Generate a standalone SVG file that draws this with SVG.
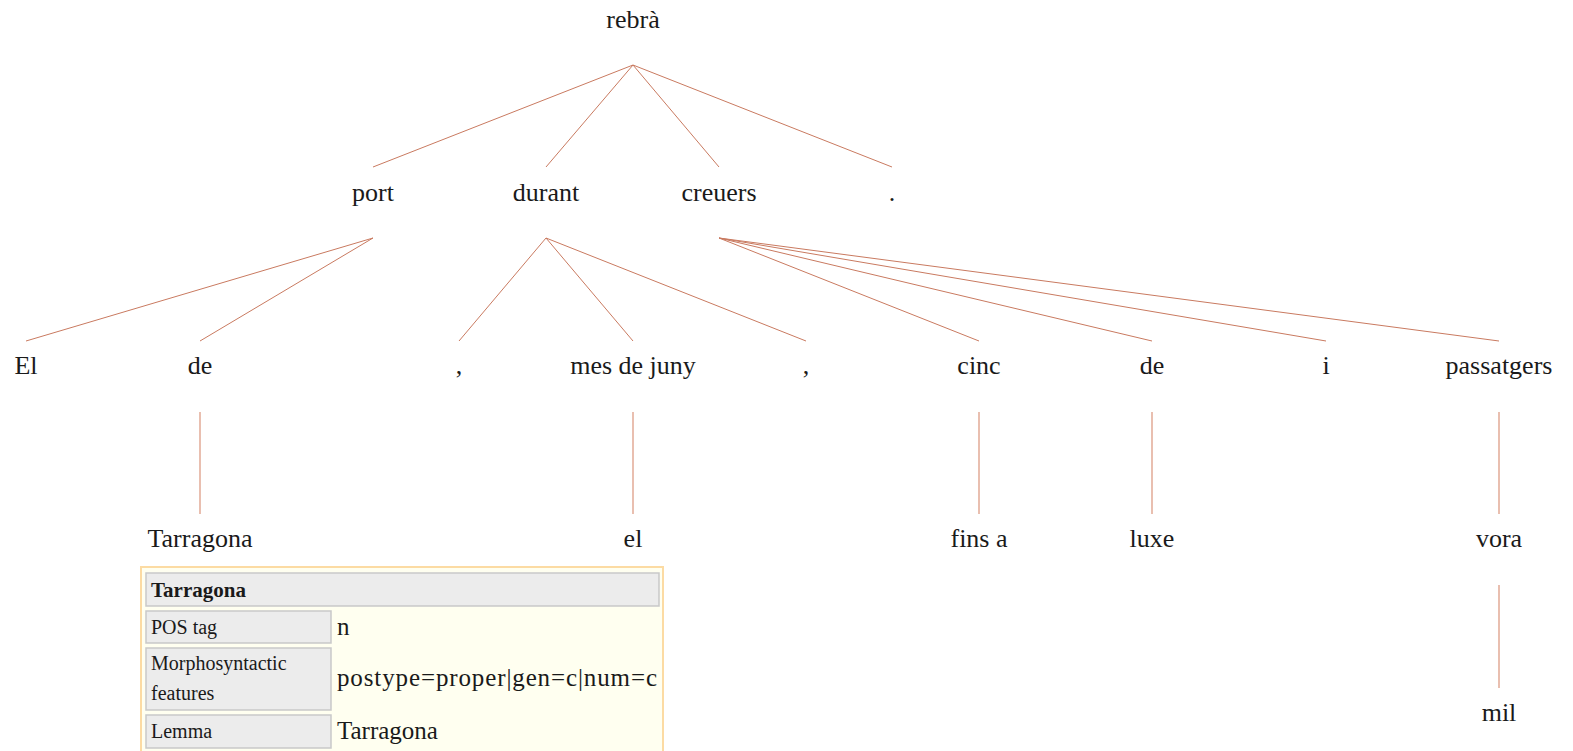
<svg xmlns="http://www.w3.org/2000/svg" width="1573" height="751" viewBox="0 0 1573 751">
<style>
text{font-family:"Liberation Serif","DejaVu Serif",serif;fill:#1a1a1a}
.n{font-size:26px;text-anchor:middle}
.e{stroke:#c97a60;stroke-width:1;fill:none}
.v{stroke:#e9bfb0;stroke-width:2;fill:none}
.cell{fill:#ececec;stroke:#c9c9c9;stroke-width:1.5}
.lab{font-size:20px}
.val{font-size:25px}
.hd{font-size:21px;font-weight:bold}
</style>
<rect width="1573" height="751" fill="#ffffff"/>
<g id="connectors">
<line class="e" x1="633" y1="65" x2="373" y2="167"/>
<line class="e" x1="633" y1="65" x2="546" y2="167"/>
<line class="e" x1="633" y1="65" x2="719" y2="167"/>
<line class="e" x1="633" y1="65" x2="892" y2="167"/>
<line class="e" x1="373" y1="238" x2="26" y2="341"/>
<line class="e" x1="373" y1="238" x2="200" y2="341"/>
<line class="e" x1="546" y1="238" x2="459" y2="341"/>
<line class="e" x1="546" y1="238" x2="633" y2="341"/>
<line class="e" x1="546" y1="238" x2="806" y2="341"/>
<line class="e" x1="719" y1="238" x2="979" y2="341"/>
<line class="e" x1="719" y1="238" x2="1152" y2="341"/>
<line class="e" x1="719" y1="238" x2="1326" y2="341"/>
<line class="e" x1="719" y1="238" x2="1499" y2="341"/>
<line class="v" x1="200" y1="412" x2="200" y2="514"/>
<line class="v" x1="633" y1="412" x2="633" y2="514"/>
<line class="v" x1="979" y1="412" x2="979" y2="514"/>
<line class="v" x1="1152" y1="412" x2="1152" y2="514"/>
<line class="v" x1="1499" y1="412" x2="1499" y2="514"/>
<line class="v" x1="1499" y1="585" x2="1499" y2="688"/>
</g>
<g id="n-rebra"><text class="n" x="633" y="28">rebrà</text></g>
<g id="n-port"><text class="n" x="373" y="201">port</text></g>
<g id="n-durant"><text class="n" x="546" y="201">durant</text></g>
<g id="n-creuers"><text class="n" x="719" y="201">creuers</text></g>
<g id="n-dot"><text class="n" x="892" y="201">.</text></g>
<g id="n-el1"><text class="n" x="26" y="374">El</text></g>
<g id="n-de1"><text class="n" x="200" y="374">de</text></g>
<g id="n-comma1"><text class="n" x="459" y="374">,</text></g>
<g id="n-mes"><text class="n" x="633" y="374">mes de juny</text></g>
<g id="n-comma2"><text class="n" x="806" y="374">,</text></g>
<g id="n-cinc"><text class="n" x="979" y="374">cinc</text></g>
<g id="n-de2"><text class="n" x="1152" y="374">de</text></g>
<g id="n-i"><text class="n" x="1326" y="374">i</text></g>
<g id="n-passatgers"><text class="n" x="1499" y="374">passatgers</text></g>
<g id="n-tarragona"><text class="n" x="200" y="547">Tarragona</text></g>
<g id="n-el2"><text class="n" x="633" y="547">el</text></g>
<g id="n-finsa"><text class="n" x="979" y="547">fins a</text></g>
<g id="n-luxe"><text class="n" x="1152" y="547">luxe</text></g>
<g id="n-vora"><text class="n" x="1499" y="547">vora</text></g>
<g id="n-mil"><text class="n" x="1499" y="721">mil</text></g>
<g id="info-table">
<rect x="141" y="567" width="522" height="200" fill="#fffff0" stroke="#fcdba3" stroke-width="2"/>
<rect class="cell" x="146" y="573" width="513" height="33"/>
<text class="hd" x="151" y="597">Tarragona</text>
<rect class="cell" x="146" y="611" width="185" height="32"/>
<text class="lab" x="151" y="634">POS tag</text>
<text class="val" x="337" y="635">n</text>
<rect class="cell" x="146" y="648" width="185" height="62"/>
<text class="lab" x="151" y="670">Morphosyntactic</text>
<text class="lab" x="151" y="700">features</text>
<text class="val" x="337" y="686" textLength="320" lengthAdjust="spacing">postype=proper|gen=c|num=c</text>
<rect class="cell" x="146" y="715" width="185" height="33"/>
<text class="lab" x="151" y="738">Lemma</text>
<text class="val" x="337" y="739">Tarragona</text>
</g>
</svg>
